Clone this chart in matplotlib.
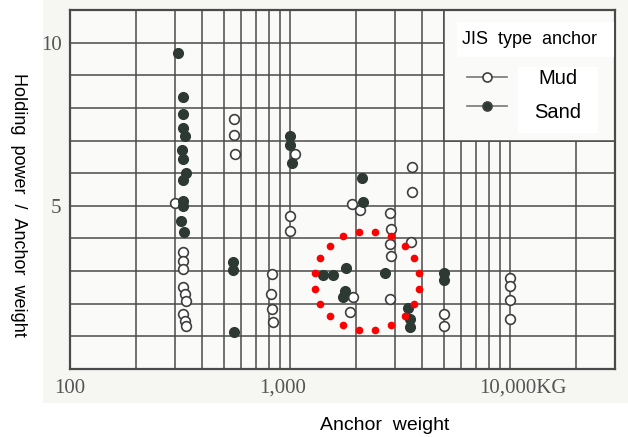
import matplotlib.pyplot as plt
import numpy as np
from matplotlib.patches import Rectangle
from matplotlib.lines import Line2D
import matplotlib.transforms as mtransforms

# Settings
plt.rcParams["font.family"] = ["Liberation Sans", "DejaVu Sans"]

# -----------------------------
# Data
# -----------------------------
mud_x = [300, 328, 328, 328, 328, 333, 337, 328, 333, 335,
         558, 558, 562,
         826, 820, 832, 838,
         1050, 1000, 995,
         1920, 2090, 1940, 1880,
         2850, 2880, 2850, 2880, 2860,
         3575, 3575, 3560,
         5020, 5020,
         10000, 10000, 10030, 10030]
mud_y = [5.08, 3.58, 3.32, 3.07, 2.52, 2.30, 2.09, 1.69, 1.47, 1.32,
         7.66, 7.16, 6.59,
         2.91, 2.29, 1.85, 1.43,
         6.60, 4.68, 4.24,
         5.06, 4.86, 2.20, 1.76,
         4.79, 4.30, 3.84, 3.47, 2.16,
         6.20, 5.41, 3.88,
         1.67, 1.32,
         2.80, 2.54, 2.10, 1.54]

sand_x = [310, 328, 325, 328, 332, 322, 326, 335, 325, 328, 328, 320, 330,
          550, 550, 555,
          1000, 1005, 1020,
          1410, 1560, 1800, 1780, 1750, 2120, 2140,
          2700,
          3450, 3500, 3520,
          5000, 5000]
sand_y = [9.68, 8.33, 7.80, 7.38, 7.15, 6.70, 6.43, 6.02, 5.80, 5.15, 4.98, 4.52, 4.21,
          3.29, 3.02, 1.14,
          7.13, 6.87, 6.31,
          2.88, 2.88, 3.10, 2.40, 2.20, 5.85, 5.12,
          2.93,
          1.88, 1.52, 1.29,
          2.93, 2.73]

x_ticks = [100, 1000, 10000]
x_ticklabels = ["100", "1,000", "10,000KG"]
y_ticks = [5, 10]

# red dotted ring (annotation)
ring_center = (2240, 2.70)
ring_radius_dec = 0.241
ring_radius_y = 1.53
ring_dots = 20

line_col = "#4a4a4a"
sand_col = "#2c3a33"
paper = "#fafaf8"

# -----------------------------
# Figure
# -----------------------------
fig = plt.figure(figsize=(6.28, 4.37), dpi=100)
fig.patch.set_facecolor("white")
# scanned paper area
scan = Rectangle((43 / 628, 1 - 403 / 437), 1, 403 / 437,
                 transform=fig.transFigure, facecolor="#f6f6f3",
                 edgecolor="none", zorder=-10)
fig.add_artist(scan)

ax = fig.add_axes([70 / 628, 1 - 369 / 437, 545 / 628, 359 / 437])
ax.set_zorder(1)
ax.set_facecolor(paper)
ax.set_xscale("log")
ax.set_xlim(100, 30000)
ax.set_ylim(0, 11)

ax.set_xticks(x_ticks)
ax.set_xticklabels(x_ticklabels)
ax.set_xticks([m * d for d in (100, 1000) for m in range(2, 10)] + [20000], minor=True)
ax.set_xticklabels([], minor=True)
ax.set_yticks(y_ticks)
ax.set_yticks(range(1, 11), minor=True)

ax.grid(which="both", color=line_col, lw=1.1)
ax.set_axisbelow(True)
ax.tick_params(which="both", length=0)
ax.tick_params(axis="y", pad=6)
ax.tick_params(axis="x", pad=7)
for lab in ax.get_xticklabels() + ax.get_yticklabels():
    lab.set_family("Liberation Serif")
    lab.set_fontsize(15)
    lab.set_color("#555555")
# nudge labels to where the scan prints them
xl = ax.get_xticklabels()
xl[1].set_transform(xl[1].get_transform() + mtransforms.ScaledTranslation(-7 / 100, 0, fig.dpi_scale_trans))
xl[2].set_transform(xl[2].get_transform() + mtransforms.ScaledTranslation(13 / 100, 0, fig.dpi_scale_trans))

for s in ax.spines.values():
    s.set_color(line_col)
    s.set_linewidth(1.6)

# legend panel (grid cut out in top right)
ax.add_patch(Rectangle((5000, 7), 30000 - 5000, 4, facecolor=paper,
                       edgecolor=line_col, lw=1.1, zorder=1.5))

# points
ax.plot(mud_x, mud_y, "o", ms=7, mfc="white", mec="#3f3f3f", mew=1.2,
        ls="none", zorder=3)
ax.plot(sand_x, sand_y, "o", ms=7, mfc=sand_col, mec=sand_col, mew=1,
        ls="none", zorder=3)

# red dotted ring
theta = np.deg2rad(9 + 360 / ring_dots * np.arange(ring_dots))
ring_x = 10 ** (np.log10(ring_center[0]) + ring_radius_dec * np.cos(theta))
ring_y = ring_center[1] + ring_radius_y * np.sin(theta)
ax.plot(ring_x, ring_y, "o", ms=4.5, color="#ff0000", ls="none", zorder=4)

# legend texts on white boxes
ax.add_patch(Rectangle(((457 - 70) / 545, (369 - 57) / 359), (614 - 457) / 545, 35 / 359,
                       transform=ax.transAxes, facecolor="white", edgecolor="none",
                       zorder=5))
ax.add_patch(Rectangle(((518 - 70) / 545, (369 - 133) / 359), 80 / 545, 66 / 359,
                       transform=ax.transAxes, facecolor="white", edgecolor="none",
                       zorder=5))
ax.text((530 - 70) / 545, (369 - 40) / 359, "JIS  type  anchor", transform=ax.transAxes,
        ha="center", va="center", fontsize=13, zorder=6)
ax.text((558 - 70) / 545, (369 - 79) / 359, "Mud", transform=ax.transAxes,
        ha="center", va="center", fontsize=14.5, zorder=6)
ax.text((558 - 70) / 545, (369 - 112) / 359, "Sand", transform=ax.transAxes,
        ha="center", va="center", fontsize=14.5, zorder=6)
for yy, face in [((369 - 77) / 359, "white"), ((369 - 106) / 359, sand_col)]:
    ax.add_line(Line2D([(467 - 70) / 545, (507 - 70) / 545], [yy, yy],
                       transform=ax.transAxes, color="#777777", lw=1.2, zorder=6))
    ax.add_line(Line2D([(487 - 70) / 545], [yy], transform=ax.transAxes,
                       marker="o", ms=6.5, mfc=face, mec="#3f3f3f", mew=1.2, zorder=7))

# axis labels
fig.text(18 / 628, 1 - 205 / 437, "Holding  power  /  Anchor  weight", rotation=270,
         ha="center", va="center", fontsize=13)
fig.text(385 / 628, 1 - 425 / 437, "Anchor  weight", ha="center", va="center",
         fontsize=14)

plt.savefig("out.png", dpi=100)
